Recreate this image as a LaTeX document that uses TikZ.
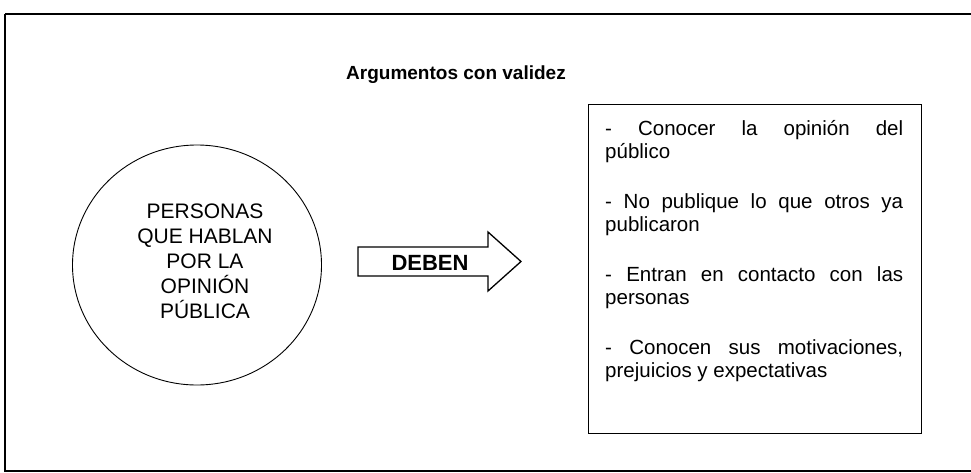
\documentclass[tikz,border=0pt]{standalone}
\usepackage{fontspec}
\setmainfont{Liberation Sans}
\usetikzlibrary{shapes.geometric,calc}
\setlength{\parindent}{0pt}
\tikzset{
  marco/.style={line width=2.2pt},
  titulo/.style={font=\fontsize{19}{23}\selectfont\bfseries},
  circulo/.style={ellipse, draw, line width=0.9pt, minimum width=249pt, minimum height=240pt, inner sep=0pt},
  textocirculo/.style={align=center, inner sep=0pt, font=\fontsize{21}{25}\selectfont},
  flecha/.style={draw, line width=1.3pt, line join=miter},
  caja/.style={draw, line width=1.2pt, minimum width=333pt, minimum height=329pt, anchor=north west, inner sep=0pt},
  lista/.style={anchor=base west, text width=298pt, align=justify, inner sep=0pt, font=\fontsize{20.5}{23}\selectfont}
}
\begin{document}
\begin{tikzpicture}[x=1pt,y=-1pt]
\useasboundingbox (0,0) rectangle (971,472);
% marco exterior
\draw[marco] (5,14) -- (985,14) (5,14) -- (5,471) -- (985,471);
\node[titulo] (titulo) at (456,75) {Argumentos con validez};
% circulo
\node[circulo] (personas) at (197,265) {};
\node[textocirculo] (personastexto) at (205,261) {PERSONAS\\QUE HABLAN\\POR LA\\OPINIÓN\\PÚBLICA};
% flecha
\coordinate (cola) at (358,261.5);
\draw[flecha] ($(cola)+(0,-14.5)$) -- ++(130,0) -- ++(0,-15) -- ++(33,29.5) -- ++(-33,29.5) -- ++(0,-15) -- ++(-130,0) -- cycle;
\node[font=\fontsize{22}{26}\selectfont\bfseries] (deben) at ($(cola)+(72,1)$) {DEBEN};
% caja de argumentos
\node[caja] (caja) at (588,104) {};
\node[lista] (argumentos) at ($(caja.north west)+(17,31)$) {%
- Conocer la opinión del\linebreak público\\[27pt]
- No publique lo que otros ya\linebreak publicaron\\[27pt]
- Entran en contacto con las\linebreak personas\\[27pt]
- Conocen sus motivaciones,\linebreak prejuicios y expectativas};
\end{tikzpicture}
\end{document}
